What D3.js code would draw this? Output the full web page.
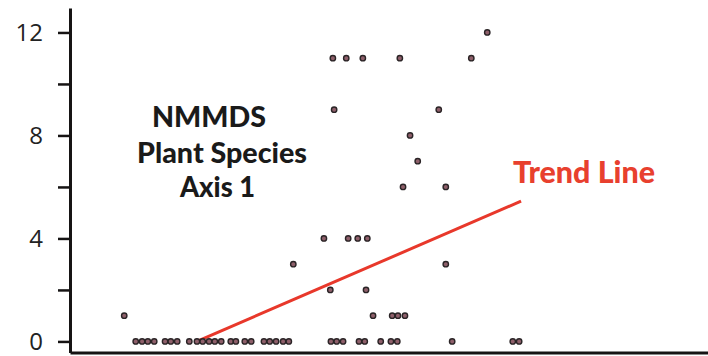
<!DOCTYPE html>
<html>
<head>
<meta charset="utf-8">
<script src="https://cdn.jsdelivr.net/npm/d3@7"></script>
<style>
  body { margin: 0; background: #fff; }
  svg { display: block; }
</style>
</head>
<body>
<figure id="nmmds" style="margin:0"></figure>
<script>
// Data: NMMDS axis 1 score (0-100 index) vs count

const axisScore = [
  65.4,
  41.2, 43.3, 45.9, 51.7, 62.9,
  41.4, 57.8,
  53.3,
  54.5,
  52.2, 58.9,
  39.8, 43.6, 45.1, 46.6,
  35.0, 58.9,
  40.8, 46.4,
  8.5, 47.5, 50.5, 51.4, 52.5,
  10.3, 11.3, 12.2, 13.2, 14.9, 15.8, 16.8, 18.7, 19.9, 20.8, 21.8, 22.7, 23.7,
  25.2, 26.0, 27.4, 28.4, 30.4, 31.3, 32.3, 33.4, 34.3,
  40.9, 41.8, 42.8, 45.3, 46.2, 48.7, 50.3, 51.3, 59.9, 69.4, 70.4
];
const speciesCount = [
  12,
  11, 11, 11, 11, 11,
  9, 9,
  8,
  7,
  6, 6,
  4, 4, 4, 4,
  3, 3,
  2, 2,
  1, 1, 1, 1, 1,
  0, 0, 0, 0, 0, 0, 0, 0, 0, 0, 0, 0, 0,
  0, 0, 0, 0, 0, 0, 0, 0, 0,
  0, 0, 0, 0, 0, 0, 0, 0, 0, 0, 0
];
const trendX = [19.9, 70.7];
const trendY = [0, 5.45];
const yTicks = [0, 2, 4, 6, 8, 10, 12];
const yLabels = [0, 4, 8, 12];
const titleLines = ["NMMDS", "Plant Species", "Axis 1"];
const trendLabel = "Trend Line";

const width = 708;
const height = 356;
const ink = "#161414";

const svg = d3.select("figure#nmmds")
  .append("svg")
  .attr("width", width)
  .attr("height", height);

// Scales
const x = d3.scaleLinear()
  .domain([0, 100])
  .range([70, 708]);

const y = d3.scaleLinear()
  .domain([-0.43, 12.95])
  .range([352.5, 8]);

// Y axis
const yAxis = svg.append("g")
  .attr("transform", "translate(70,0)")
  .call(d3.axisLeft(y)
    .tickValues(yTicks)
    .tickSize(12)
    .tickSizeOuter(0)
    .tickPadding(15)
    .tickFormat(d => yLabels.includes(d) ? d : ""));

yAxis.select(".domain").attr("stroke", ink).attr("stroke-width", 3);
yAxis.selectAll(".tick line").attr("stroke", ink).attr("stroke-width", 2.5);
yAxis.selectAll(".tick text")
  .attr("fill", "#222")
  .style("font-family", "'Open Sans', 'DejaVu Sans', sans-serif")
  .style("font-size", "24px");

// X axis (no ticks)
const xAxis = svg.append("g")
  .attr("transform", "translate(0,352.5)")
  .call(d3.axisBottom(x).tickValues([]).tickSizeOuter(0));

xAxis.select(".domain").attr("stroke", ink).attr("stroke-width", 3);

// Trend line
svg.append("path")
  .datum(d3.zip(trendX, trendY))
  .attr("d", d3.line().x(d => x(d[0])).y(d => y(d[1])))
  .attr("fill", "none")
  .attr("stroke", "#e8382b")
  .attr("stroke-width", 3);

// Points
svg.selectAll("circle.pt")
  .data(d3.zip(axisScore, speciesCount))
  .enter()
  .append("circle")
  .attr("class", "pt")
  .attr("cx", d => x(d[0]))
  .attr("cy", d => y(d[1]))
  .attr("r", 2.7)
  .attr("fill", "#8e5f6a")
  .attr("stroke", "#2a2426")
  .attr("stroke-width", 1.4);

// Annotation text
const titlePos = [
  { x: 152, y: 127, len: 114 },
  { x: 137, y: 163, len: 170 },
  { x: 180, y: 197, len: 75 }
];

svg.selectAll("text.title")
  .data(titleLines)
  .enter()
  .append("text")
  .attr("class", "title")
  .attr("x", (d, i) => titlePos[i].x)
  .attr("y", (d, i) => titlePos[i].y)
  .attr("textLength", (d, i) => titlePos[i].len)
  .attr("lengthAdjust", "spacingAndGlyphs")
  .attr("fill", "#1a1a1a")
  .style("font-family", "Lato, 'Open Sans', sans-serif")
  .style("font-weight", "900")
  .style("font-size", "29px")
  .text(d => d);

svg.append("text")
  .attr("x", 513)
  .attr("y", 183)
  .attr("textLength", 142)
  .attr("lengthAdjust", "spacingAndGlyphs")
  .attr("fill", "#e8402e")
  .style("font-family", "Lato, 'Open Sans', sans-serif")
  .style("font-weight", "900")
  .style("font-size", "30px")
  .text(trendLabel);
</script>
</body>
</html>
